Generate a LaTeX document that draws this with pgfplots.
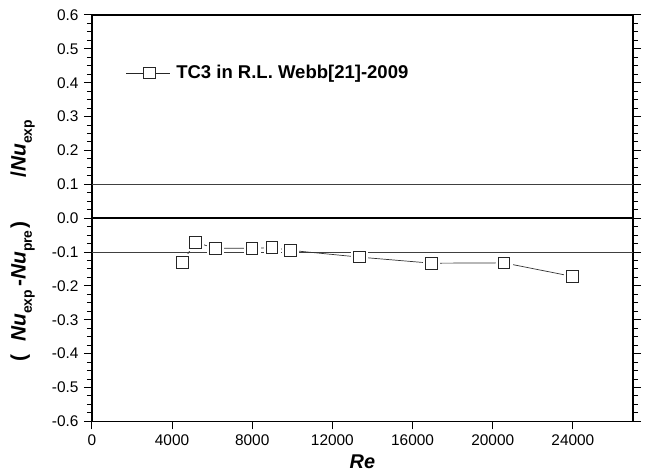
\documentclass[border=0pt]{standalone}
\usepackage{pgfplots}
\pgfplotsset{compat=1.18}
\usepackage{fontspec}
\setmainfont{Liberation Sans}

% TC3 deviation data
\pgfplotstableread{
Re    dev
4520  -0.130
5160  -0.071
6160  -0.089
7980  -0.089
8980  -0.087
9910  -0.095
13340 -0.115
16950 -0.133
20560 -0.132
23970 -0.172
}\tcdata

\newcommand{\sub}[1]{\raisebox{-0.3em}{\fontsize{14}{15}\selectfont #1}}

\begin{document}
\fontsize{15.5}{18}\selectfont
\begin{tikzpicture}
\begin{axis}[
    width=542bp, height=407bp, scale only axis,
    xmin=0, xmax=27000,
    ymin=-0.6, ymax=0.6,
    xtick={0,4000,8000,12000,16000,20000,24000},
    ytick={-0.6,-0.5,-0.4,-0.3,-0.2,-0.1,0,0.1,0.2,0.3,0.4,0.5,0.6},
    minor y tick num=3,
    xtick pos=bottom,
    ytick pos=both,
    yticklabel pos=left,
    tick align=outside,
    major tick length=8bp,
    minor tick length=5bp,
    every tick/.style={black, line width=1pt},
    axis line style={line width=1.3pt},
    scaled x ticks=false,
    /pgf/number format/assume math mode=true,
    x tick label style={/pgf/number format/1000 sep={}},
    y tick label style={/pgf/number format/.cd, fixed, fixed zerofill, precision=1},
    xlabel={\fontsize{20}{22}\selectfont\bfseries\itshape Re},
    xlabel style={yshift=1bp},
    ylabel={\fontsize{21}{23}\selectfont\bfseries (\hspace{0.6em}\textit{Nu}\sub{exp}\hspace{0.15em}-\textit{Nu}\sub{pre}\hspace{0.1em})\hspace{2.1em}/\textit{Nu}\sub{exp}},
    ylabel style={at={(axis description cs:-0.128,0.445)}, anchor=center},
    legend style={draw=none, fill=none, at={(0.062,0.857)}, anchor=west,
        inner sep=0pt, font=\fontsize{18.6}{21}\selectfont\bfseries},
    legend cell align=left,
]
% reference lines
\addplot[black!75, line width=0.9pt, forget plot] coordinates {(0,0.1) (27000,0.1)};
\addplot[black!75, line width=0.9pt, forget plot] coordinates {(0,-0.1) (27000,-0.1)};
\addplot[black, line width=1.4pt, forget plot] coordinates {(0,0) (27000,0)};

% series: line, white gaps around marks, then the square marks
\addplot[black!80, line width=0.7pt, forget plot] table[x=Re, y=dev] {\tcdata};
\addplot[only marks, mark=square*, mark size=8bp, draw=white, fill=white, forget plot]
    table[x=Re, y=dev] {\tcdata};
\addplot[only marks, mark=square, mark size=5.8bp, black!85,
    mark options={line width=0.9pt, fill=white}, forget plot]
    table[x=Re, y=dev] {\tcdata};

\addlegendimage{legend image code/.code={
    \draw[black!85, line width=0.8pt] (0bp,0bp) -- (17bp,0bp);
    \draw[black!85, line width=0.8pt] (29bp,0bp) -- (44bp,0bp);
    \draw[black!85, line width=0.9pt, fill=white] (17bp,-5.8bp) rectangle (29bp,5.8bp);
}}
\addlegendentry{\hspace{4bp}TC3 in R.L. Webb[21]-2009}
\end{axis}
% canvas as in the reference
\path ([xshift=-92bp, yshift=-54bp]current axis.south west)
    rectangle ([xshift=13bp, yshift=15bp]current axis.north east);
\end{tikzpicture}
\end{document}
